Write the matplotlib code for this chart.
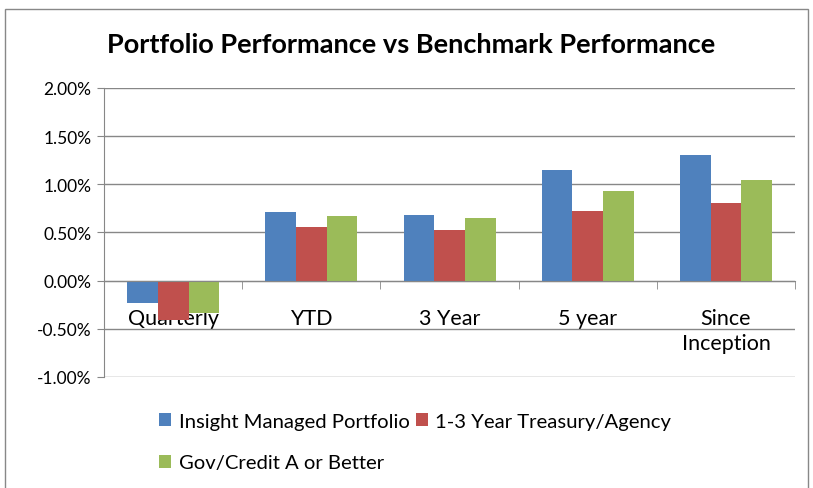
import matplotlib.pyplot as plt
import matplotlib.patches as mpatches
import numpy as np
from matplotlib.ticker import FuncFormatter, FixedLocator

plt.rcParams['font.family'] = ['Lato', 'DejaVu Sans']

categories = ['Quarterly', 'YTD', '3 Year', '5 year', 'Since\nInception']
series_names = ['Insight Managed Portfolio', '1-3 Year Treasury/Agency',
                'Gov/Credit A or Better']
insight = [-0.23, 0.715, 0.68, 1.15, 1.30]
treasury = [-0.41, 0.56, 0.53, 0.72, 0.81]
govcredit = [-0.34, 0.67, 0.65, 0.93, 1.05]
colors = ['#4F81BD', '#C0504D', '#9BBB59']
yticks = [-1.0, -0.5, 0.0, 0.5, 1.0, 1.5, 2.0]

fig = plt.figure(figsize=(8.13, 4.89), dpi=100)
ax = fig.add_axes([0.128, 0.227, 0.85, 0.591])

x = np.arange(len(categories))
w = 0.222
handles = []
for i, (vals, c) in enumerate(zip([insight, treasury, govcredit], colors)):
    b = ax.bar(x + (i - 1) * w, vals, width=w, color=c, zorder=3,
               label=series_names[i])
    handles.append(b)

ax.set_xlim(-0.5, len(categories) - 0.5)
ax.set_ylim(-1.0, 2.0)
ax.set_yticks(yticks)
ax.yaxis.set_major_formatter(FuncFormatter(lambda v, p: f'{v:.2f}%'))
ax.grid(axis='y', color='#878787', lw=1, zorder=0)
ax.tick_params(axis='y', length=5, color='#878787', labelsize=12.5, pad=4)

for s in ['top', 'right']:
    ax.spines[s].set_visible(False)
ax.spines['left'].set_color('#878787')
ax.spines['bottom'].set_position(('data', 0))
ax.spines['bottom'].set_color('#878787')
ax.spines['bottom'].set_zorder(4)

ax.set_xticks(x)
ax.set_xticklabels(categories, fontsize=15.5, linespacing=1.3)
ax.tick_params(axis='x', which='major', length=0, pad=20)
ax.xaxis.set_minor_locator(FixedLocator(np.arange(-0.5, len(categories), 1.0)))
ax.tick_params(axis='x', which='minor', length=6, color='#878787')
for lbl in ax.get_xticklabels():
    lbl.set_verticalalignment('top')

fig.text(0.506, 0.908, 'Portfolio Performance vs Benchmark Performance',
         ha='center', va='center', fontsize=19.5, fontweight='bold')

# legend order so that the 2-column layout puts Gov/Credit on the second row
order = [handles[0], handles[2], handles[1]]
fig.legend(order, [h.get_label() for h in order], ncol=2,
           loc='upper left', bbox_to_anchor=(0.186, 0.17),
           frameon=False, fontsize=14.6, handlelength=0.6, handleheight=0.6,
           handletextpad=0.35, columnspacing=0.3, labelspacing=1.2,
           borderaxespad=0)

fig.patches.append(mpatches.Rectangle((5 / 813, -0.1), 803 / 813, 1.1 - 10 / 489,
                                      transform=fig.transFigure, fill=False,
                                      edgecolor='#888888', lw=1))

fig.savefig('out.png', dpi=100)
